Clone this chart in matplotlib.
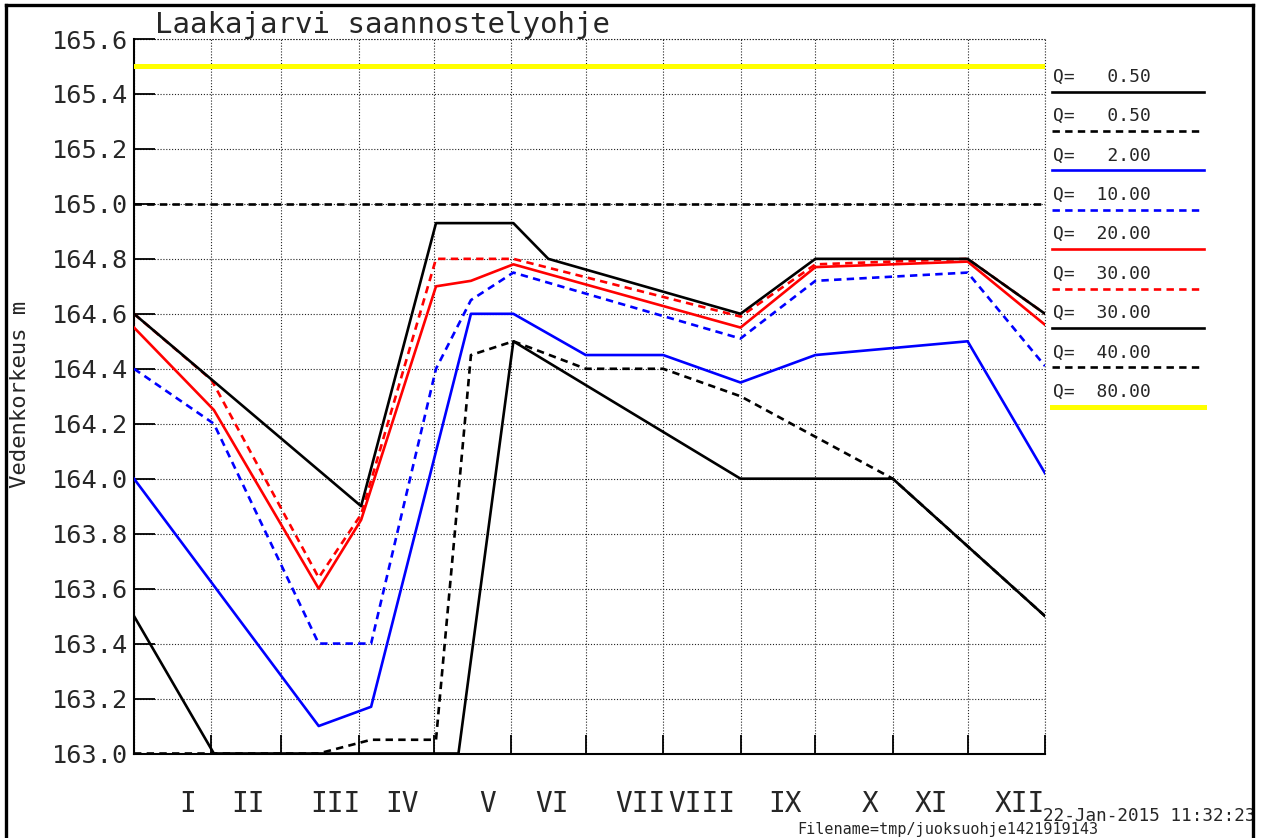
import matplotlib
matplotlib.use("Agg")
import matplotlib.pyplot as plt
from matplotlib.lines import Line2D
from matplotlib.transforms import blended_transform_factory
import numpy as np

plt.rcParams['font.family'] = ['DejaVu Sans Mono', 'DejaVu Sans']

# ---------------- data ----------------
title = "Laakajarvi saannostelyohje"
ylabel = "Vedenkorkeus m"
month_starts = [0, 31, 59, 90, 120, 151, 181, 212, 243, 273, 304, 334, 365]
month_labels = ["I", "II", "III", "IV", "V", "VI", "VII", "VIII", "IX", "X", "XI", "XII"]
month_label_pos = [21.6, 45.7, 80.5, 107.4, 141.8, 167.5, 202.7, 227.6, 260.8, 294.9, 319.7, 355.0]
y_ticks = [163.0, 163.2, 163.4, 163.6, 163.8, 164.0, 164.2, 164.4, 164.6, 164.8, 165.0, 165.2, 165.4, 165.6]

q_values = [0.50, 0.50, 2.00, 10.00, 20.00, 30.00, 30.00, 40.00, 80.00]

q050_solid_days = [0, 32, 130, 152, 243, 304, 365]
q050_solid_lev = [163.5, 163.0, 163.0, 164.5, 164.0, 164.0, 163.5]

q050_dash_days = [0, 74, 95, 121, 135, 152, 181, 212, 243, 304, 365]
q050_dash_lev = [163.0, 163.0, 163.05, 163.05, 164.45, 164.5, 164.4, 164.4, 164.3, 164.0, 163.5]

q2_days = [0, 74, 95, 135, 152, 181, 212, 243, 273, 334, 365]
q2_lev = [164.0, 163.1, 163.17, 164.6, 164.6, 164.45, 164.45, 164.35, 164.45, 164.5, 164.02]

q10_days = [0, 32, 74, 95, 121, 135, 152, 243, 273, 334, 365]
q10_lev = [164.4, 164.2, 163.4, 163.4, 164.4, 164.65, 164.75, 164.51, 164.72, 164.75, 164.41]

q20_days = [0, 32, 74, 91, 121, 135, 152, 243, 273, 334, 365]
q20_lev = [164.55, 164.25, 163.6, 163.85, 164.7, 164.72, 164.78, 164.55, 164.77, 164.79, 164.56]

q30_dash_days = [0, 31, 74, 91, 121, 152, 243, 273, 334, 365]
q30_dash_lev = [164.6, 164.36, 163.64, 163.87, 164.8, 164.8, 164.59, 164.78, 164.8, 164.6]

q30_solid_days = [0, 91, 121, 152, 166, 243, 273, 334, 365]
q30_solid_lev = [164.6, 163.9, 164.93, 164.93, 164.8, 164.6, 164.8, 164.8, 164.6]

q40_days = [0, 365]
q40_lev = [165.0, 165.0]

q80_days = [0, 365]
q80_lev = [165.5, 165.5]

series_days = [q050_solid_days, q050_dash_days, q2_days, q10_days, q20_days,
               q30_dash_days, q30_solid_days, q40_days, q80_days]
series_lev = [q050_solid_lev, q050_dash_lev, q2_lev, q10_lev, q20_lev,
              q30_dash_lev, q30_solid_lev, q40_lev, q80_lev]
series_color = ['black', 'black', '#0000ff', '#0000ff', '#ff0000', '#ff0000', 'black', 'black', '#ffff00']
DASH = (0, (2.8, 2.0))
series_ls = ['-', DASH, '-', DASH, '-', DASH, '-', DASH, '-']
series_lw = [1.9, 1.9, 1.9, 1.9, 1.9, 1.9, 1.9, 1.9, 3.6]

TXT = '#262626'

# ---------------- figure ----------------
W, H = 1261, 838
fig = plt.figure(figsize=(W / 100, H / 100), dpi=100)

def fx(px):
    return px / W

def fy(py):
    return (H - py) / H

ax_left, ax_right, ax_top, ax_bot = 134, 1045, 39, 753.5
ax = fig.add_axes([fx(ax_left), fy(ax_bot), fx(ax_right) - fx(ax_left), fy(ax_top) - fy(ax_bot)])
ax.set_xlim(0, 365)
ax.set_ylim(163.0, 165.6)

ax.set_xticks(month_starts)
ax.set_xticklabels([])
ax.set_yticks(y_ticks)
ax.set_yticklabels([f"{v:.1f}" for v in y_ticks])
ax.tick_params(axis='y', direction='in', length=15, width=1.3, pad=4.5, labelsize=18.2,
               colors='black', labelcolor=TXT)
ax.tick_params(axis='x', direction='in', length=13.5, width=1.3)

GRID_LS = (0, (1, 1.6))
ax.grid(True, color='#222222', linestyle=GRID_LS, linewidth=0.8)
ax.axvline(365, color='#222222', linestyle=GRID_LS, linewidth=0.8, clip_on=False, zorder=1.5)
ax.axhline(165.6, color='#222222', linestyle=GRID_LS, linewidth=0.8, clip_on=False, zorder=1.5)
for s in ['top', 'right']:
    ax.spines[s].set_visible(False)
for s in ['left', 'bottom']:
    ax.spines[s].set_linewidth(1.5)

for d, l, c, ls, lw in zip(series_days, series_lev, series_color, series_ls, series_lw):
    ax.plot(d, l, color=c, linestyle=ls, linewidth=lw, zorder=3)

# month labels
trans = blended_transform_factory(ax.transData, fig.transFigure)
for pos, lab in zip(month_label_pos, month_labels):
    ax.text(pos, fy(812), lab, transform=trans, ha='center', va='baseline',
            fontsize=20, family='DejaVu Sans Mono', color=TXT)

# title, y label
fig.text(fx(155), fy(33), title, fontsize=21, family='DejaVu Sans Mono', va='baseline', color=TXT)
fig.text(fx(20), fy(394), ylabel, fontsize=16, family='DejaVu Sans Mono', rotation=90,
         ha='center', va='center', color=TXT)

# legend (manual, as in original)
for i, (q, c, ls, lw) in enumerate(zip(q_values, series_color, series_ls, series_lw)):
    yl = 91.7 + 39.4 * i
    fig.add_artist(Line2D([fx(1052), fx(1204)], [fy(yl), fy(yl)], transform=fig.transFigure,
                          color=c, linestyle=ls, linewidth=lw))
    fig.text(fx(1053), fy(yl - 10), f"Q={q:7.2f}", fontsize=13, family='DejaVu Sans Mono',
             va='baseline', color=TXT)

# footer texts
fig.text(fx(1043), fy(821), "22-Jan-2015 11:32:23", fontsize=12.7, family='DejaVu Sans Mono',
         va='baseline', color=TXT)
fig.text(fx(797), fy(834), "Filename=tmp/juoksuohje1421919143", fontsize=10.9,
         family='DejaVu Sans Mono', va='baseline', color=TXT)

# page frame
for xs, ys in [([fx(5.5), fx(5.5)], [fy(5.5), 0]),
               ([fx(5.5), fx(1252.5)], [fy(5.5), fy(5.5)]),
               ([fx(1252.5), fx(1252.5)], [fy(5.5), 0])]:
    fig.add_artist(Line2D(xs, ys, transform=fig.transFigure, color='black', linewidth=2.4, zorder=10))

fig.savefig("out.png", dpi=100)
